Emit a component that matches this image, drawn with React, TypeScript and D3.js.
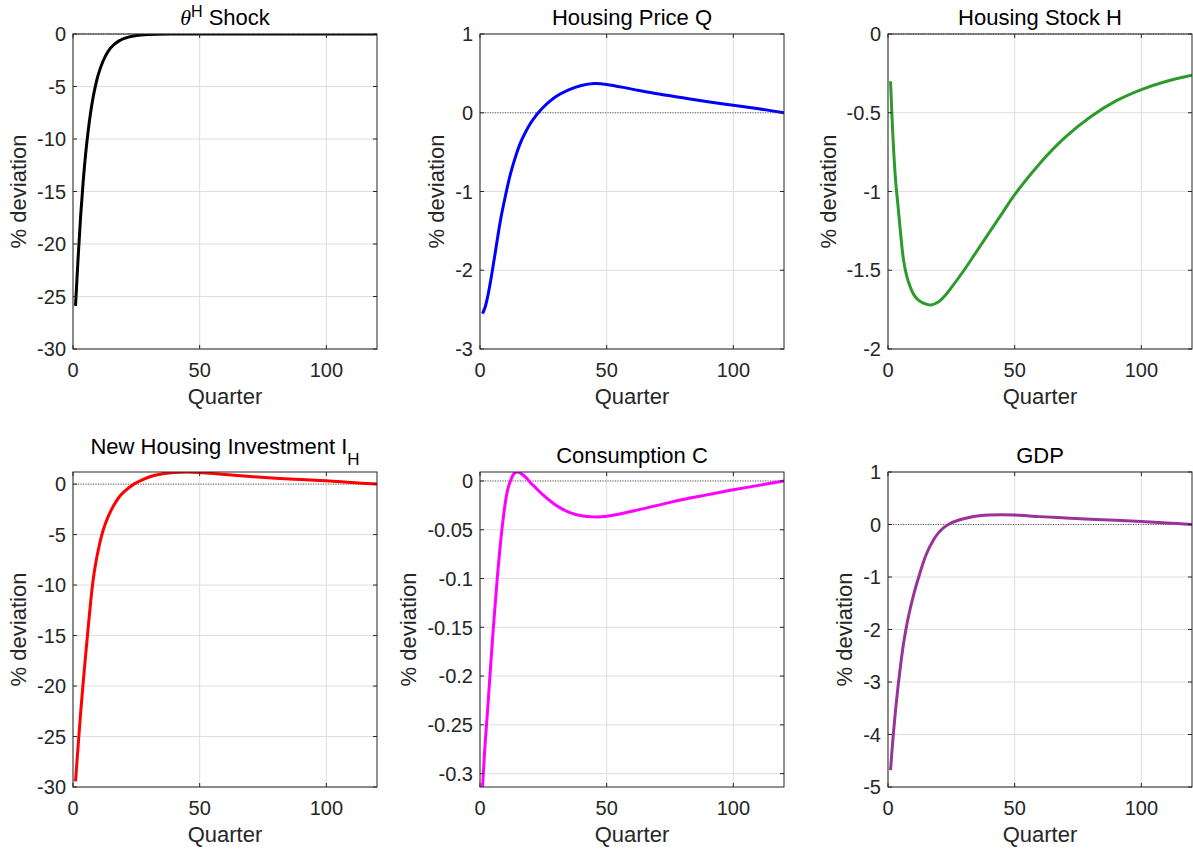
import { useEffect, useRef } from "react";
import * as d3 from "d3";

const W = 1193;
const H = 855;
const FONT = "'Liberation Sans', Arial, Helvetica, sans-serif";

// quarter grid shared by x axes
const xTicks = [0, 50, 100];

// theta^H shock
const shockQ = [1, 2, 3, 4, 5, 6, 7, 8, 9, 10, 12, 14, 16, 18, 20, 25, 30, 40, 50, 60, 80, 100, 120];
const shockV = [-25.9, -21.4, -17.4, -14.1, -11.4, -9.2, -7.4, -5.95, -4.8, -3.85, -2.5, -1.6, -1.05, -0.68, -0.44, -0.15, -0.05, -0.005, 0, 0, 0, 0, 0];

// housing price Q
const priceQ = [1, 2, 3, 4, 5, 6, 8, 10, 12, 14, 16, 18, 20, 22, 23, 25, 30, 35, 40, 45, 50, 60, 70, 80, 90, 100, 110, 120];
const priceV = [-2.55, -2.47, -2.34, -2.17, -1.98, -1.78, -1.38, -1.06, -0.78, -0.56, -0.38, -0.245, -0.13, -0.04, 0.0, 0.07, 0.205, 0.29, 0.345, 0.37, 0.36, 0.3, 0.24, 0.19, 0.14, 0.095, 0.05, 0.0];

// housing stock H
const stockQ = [1, 2, 3, 4, 5, 6, 7, 8, 10, 12, 15, 17, 20, 22, 25, 30, 35, 40, 45, 50, 60, 70, 80, 90, 100, 110, 120];
const stockV = [-0.3, -0.67, -0.93, -1.1, -1.27, -1.42, -1.51, -1.57, -1.65, -1.69, -1.715, -1.72, -1.7, -1.67, -1.61, -1.5, -1.38, -1.26, -1.14, -1.02, -0.82, -0.655, -0.525, -0.425, -0.353, -0.3, -0.262];

// new housing investment I_H
const investQ = [1, 2, 3, 4, 5, 6, 7, 8, 9, 10, 11, 12, 14, 16, 18, 20, 24, 28, 32, 36, 40, 45, 50, 60, 70, 80, 90, 100, 110, 120];
const investV = [-29.45, -26.0, -22.7, -19.7, -16.9, -14.2, -11.6, -9.4, -7.8, -6.5, -5.4, -4.5, -3.15, -2.15, -1.35, -0.8, 0.0, 0.5, 0.85, 1.05, 1.16, 1.2, 1.15, 0.95, 0.75, 0.58, 0.45, 0.33, 0.16, 0.0];

// consumption C
const consQ = [1, 2, 3, 4, 5, 6, 7, 8, 9, 10, 11, 12, 13, 14, 15, 16, 18, 20, 22, 25, 30, 35, 40, 45, 50, 60, 70, 80, 90, 100, 110, 120];
const consV = [-0.3137, -0.27, -0.235, -0.197, -0.16, -0.126, -0.094, -0.066, -0.042, -0.022, -0.008, 0.0, 0.006, 0.0088, 0.0092, 0.008, 0.004, -0.002, -0.007, -0.0146, -0.025, -0.032, -0.0357, -0.0368, -0.0362, -0.031, -0.025, -0.019, -0.014, -0.009, -0.0045, 0.0];

// GDP
const gdpQ = [1, 2, 3, 4, 5, 6, 7, 8, 10, 12, 15, 18, 20, 22, 24, 28, 32, 36, 40, 45, 50, 60, 70, 80, 90, 100, 110, 120];
const gdpV = [-4.68, -4.05, -3.52, -3.07, -2.67, -2.31, -2.02, -1.77, -1.36, -1.02, -0.58, -0.29, -0.155, -0.06, 0.005, 0.085, 0.135, 0.165, 0.18, 0.185, 0.18, 0.15, 0.125, 0.1, 0.08, 0.057, 0.03, 0.0];

const shockTicks = [-30, -25, -20, -15, -10, -5, 0];
const priceTicks = [-3, -2, -1, 0, 1];
const stockTicks = [-2, -1.5, -1, -0.5, 0];
const investTicks = [-30, -25, -20, -15, -10, -5, 0];
const consTicks = [-0.3, -0.25, -0.2, -0.15, -0.1, -0.05, 0];
const gdpTicks = [-5, -4, -3, -2, -1, 0, 1];

type Part = { text: string; italic?: boolean; sup?: boolean; sub?: boolean };

const panels = [
  { q: shockQ, v: shockV, color: "#000000", dom: [-30, 0], ticks: shockTicks,
    title: [{ text: "θ", italic: true }, { text: "H", sup: true }, { text: " Shock" }] as Part[] },
  { q: priceQ, v: priceV, color: "#0000ff", dom: [-3, 1], ticks: priceTicks,
    title: [{ text: "Housing Price Q" }] as Part[] },
  { q: stockQ, v: stockV, color: "#2e9a2e", dom: [-2, 0], ticks: stockTicks,
    title: [{ text: "Housing Stock H" }] as Part[] },
  { q: investQ, v: investV, color: "#ff0000", dom: [-30, 1.2], ticks: investTicks,
    title: [{ text: "New Housing Investment I" }, { text: "H", sub: true }] as Part[] },
  { q: consQ, v: consV, color: "#ff00ff", dom: [-0.3137, 0.0092], ticks: consTicks,
    title: [{ text: "Consumption C" }] as Part[] },
  { q: gdpQ, v: gdpV, color: "#993399", dom: [-5, 1], ticks: gdpTicks,
    title: [{ text: "GDP" }] as Part[] },
];

const colLeft = [73, 480, 888];
const rowTop = [34, 472];
const axW = 304;
const axH = 315;

export default function App() {
  const ref = useRef<SVGSVGElement>(null);

  useEffect(() => {
    const svg = d3.select(ref.current);
    svg.selectAll("*").remove();
    svg.append("rect").attr("width", W).attr("height", H).attr("fill", "#ffffff");

    panels.forEach((p, i) => {
      const left = colLeft[i % 3];
      const top = rowTop[Math.floor(i / 3)];
      const x = d3.scaleLinear().domain([0, 120]).range([left, left + axW]);
      const y = d3.scaleLinear().domain(p.dom).range([top + axH, top]);
      const g = svg.append("g").attr("font-family", FONT);

      const clipId = `clip-${i}`;
      g.append("clipPath").attr("id", clipId)
        .append("rect").attr("x", left).attr("y", top).attr("width", axW).attr("height", axH);

      // grid
      g.selectAll(".gx").data(xTicks).join("line")
        .attr("x1", (d) => x(d)).attr("x2", (d) => x(d))
        .attr("y1", top).attr("y2", top + axH)
        .attr("stroke", "#dedede").attr("stroke-width", 1);
      g.selectAll(".gy").data(p.ticks).join("line")
        .attr("x1", left).attr("x2", left + axW)
        .attr("y1", (d) => y(d)).attr("y2", (d) => y(d))
        .attr("stroke", "#dedede").attr("stroke-width", 1);

      // zero line
      g.append("line")
        .attr("x1", left).attr("x2", left + axW)
        .attr("y1", y(0)).attr("y2", y(0))
        .attr("stroke", "#333").attr("stroke-width", 0.8)
        .attr("stroke-dasharray", "1,1.5");

      // series
      const line = d3.line<number>()
        .x((_, k) => x(p.q[k]))
        .y((d) => y(d))
        .curve(d3.curveCatmullRom.alpha(0.5));
      g.append("path")
        .attr("clip-path", `url(#${clipId})`)
        .attr("d", line(p.v))
        .attr("fill", "none")
        .attr("stroke", p.color)
        .attr("stroke-width", 3)
        .attr("stroke-linejoin", "round");

      // box
      g.append("rect")
        .attr("x", left).attr("y", top).attr("width", axW).attr("height", axH)
        .attr("fill", "none").attr("stroke", "#262626").attr("stroke-width", 1);

      // inward ticks
      const tl = 4;
      g.selectAll(".tx").data(xTicks).join("path")
        .attr("d", (d) => `M${x(d)},${top + axH}v${-tl}M${x(d)},${top}v${tl}`)
        .attr("stroke", "#262626");
      g.selectAll(".ty").data(p.ticks).join("path")
        .attr("d", (d) => `M${left},${y(d)}h${tl}M${left + axW},${y(d)}h${-tl}`)
        .attr("stroke", "#262626");

      // tick labels
      g.selectAll(".lx").data(xTicks).join("text")
        .attr("x", (d) => x(d)).attr("y", top + axH + 28)
        .attr("text-anchor", "middle").attr("font-size", 20).attr("fill", "#262626")
        .text((d) => String(d));
      const ly = g.selectAll(".ly").data(p.ticks).join("text")
        .attr("x", left - 7).attr("y", (d) => y(d)).attr("dy", "0.36em")
        .attr("text-anchor", "end").attr("font-size", 20).attr("fill", "#262626")
        .text((d) => String(+d.toFixed(4)));
      let maxW = 0;
      ly.each(function () {
        maxW = Math.max(maxW, (this as SVGTextElement).getComputedTextLength());
      });

      // axis labels
      g.append("text")
        .attr("x", left + axW / 2).attr("y", top + axH + 55)
        .attr("text-anchor", "middle").attr("font-size", 22).attr("fill", "#262626")
        .text("Quarter");
      const yl = left - 7 - maxW - 11;
      g.append("text")
        .attr("transform", `translate(${yl},${top + axH / 2}) rotate(-90)`)
        .attr("text-anchor", "middle").attr("font-size", 22).attr("fill", "#262626")
        .text("% deviation");

      // title
      const hasSub = p.title.some((t) => t.sub);
      const tt = g.append("text")
        .attr("x", left + axW / 2).attr("y", top - (hasSub ? 18 : 9))
        .attr("text-anchor", "middle").attr("font-size", 22).attr("fill", "#000");
      p.title.forEach((t) => {
        const s = tt.append("tspan").text(t.text);
        if (t.italic) s.attr("font-style", "italic").attr("font-family", "'Liberation Serif', 'DejaVu Serif', serif");
        if (t.sup) s.attr("font-size", 16).attr("dy", -8);
        if (t.sub) s.attr("font-size", 17).attr("dy", 11);
        if (!t.sup && !t.sub && (t.text.startsWith(" "))) s.attr("dy", 8);
      });
    });
  }, []);

  return (
    <svg
      ref={ref}
      width={W}
      height={H}
      viewBox={`0 0 ${W} ${H}`}
      style={{ position: "absolute", left: 0, top: 0, display: "block" }}
    ></svg>
  );
}
